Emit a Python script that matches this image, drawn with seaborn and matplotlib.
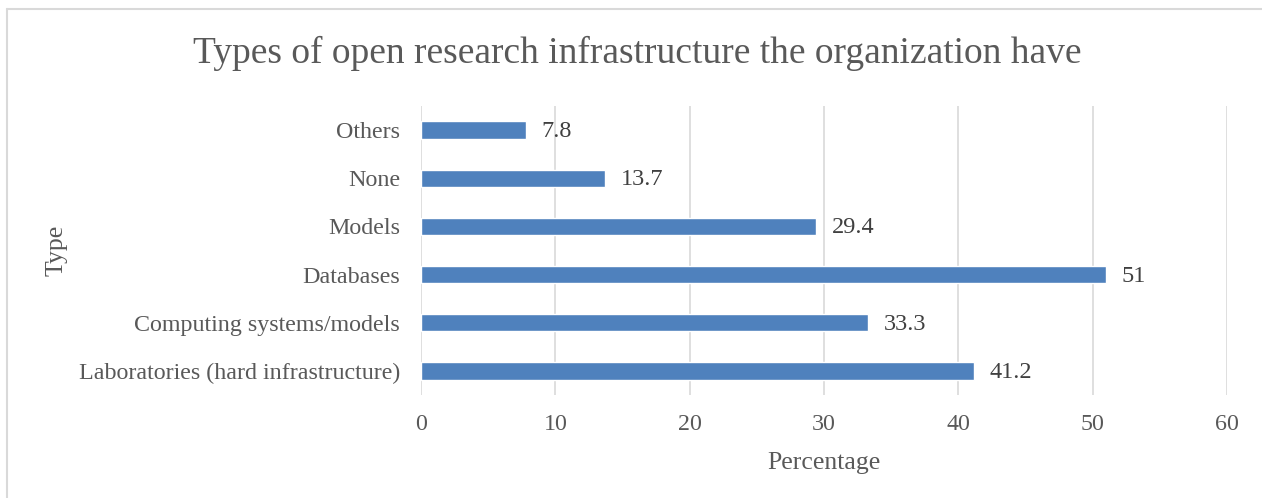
import matplotlib
matplotlib.use("Agg")
import matplotlib.pyplot as plt
from matplotlib.lines import Line2D
import seaborn as sns
import pandas as pd

categories = [
    "Others",
    "None",
    "Models",
    "Databases",
    "Computing systems/models",
    "Laboratories (hard infrastructure)",
]
percentages = [7.8, 13.7, 29.4, 51, 33.3, 41.2]
value_labels = ["7.8", "13.7", "29.4", "51", "33.3", "41.2"]
x_ticks = [0, 10, 20, 30, 40, 50, 60]

df = pd.DataFrame({"Type": categories, "Percentage": percentages})

sns.set_theme(style="white")
plt.rcParams["font.family"] = ["Liberation Serif", "DejaVu Serif"]

fig = plt.figure(figsize=(12.62, 4.98), dpi=100)
ax = fig.add_axes([0.3336, 0.2068, 0.9723 - 0.3336, 0.7871 - 0.2068])

sns.barplot(data=df, x="Percentage", y="Type", orient="h",
            color="#4F81BD", saturation=1, width=0.36, ax=ax, zorder=3)

ax.set_xlim(0, 60)
ax.set_xticks(x_ticks)
ax.set_xticklabels([str(t) for t in x_ticks])
ax.grid(axis="x", color="#D9D9D9", linewidth=1.2, zorder=0)
ax.grid(axis="y", visible=False)
for s in ax.spines.values():
    s.set_visible(False)
ax.tick_params(axis="both", length=0, labelsize=17.3, labelcolor="#595959")
ax.tick_params(axis="x", pad=14)
ax.tick_params(axis="y", pad=15)

for bar, lab in zip(ax.patches, value_labels):
    ax.text(bar.get_width() + 1.15, bar.get_y() + bar.get_height() / 2 + 0.03, lab,
            va="center", ha="left", fontsize=17.5, color="#404040")

ax.set_xlabel("Percentage", fontsize=18.5, color="#595959", labelpad=12)
ax.set_ylabel("Type", fontsize=18.5, color="#595959", labelpad=8)

fig.text(0.5 + 0.005, 0.893, "Types of open research infrastructure the organization have",
         ha="center", va="center", fontsize=27, color="#595959")

# light frame on the left and top edges
fig.add_artist(Line2D([6.5 / 1262, 6.5 / 1262], [0, 1 - 9.5 / 498],
                      transform=fig.transFigure, color="#D9D9D9", linewidth=1.5))
fig.add_artist(Line2D([6.5 / 1262, 1], [1 - 9.5 / 498, 1 - 9.5 / 498],
                      transform=fig.transFigure, color="#D9D9D9", linewidth=1.5))

fig.savefig("out.png", dpi=100, facecolor="white")
